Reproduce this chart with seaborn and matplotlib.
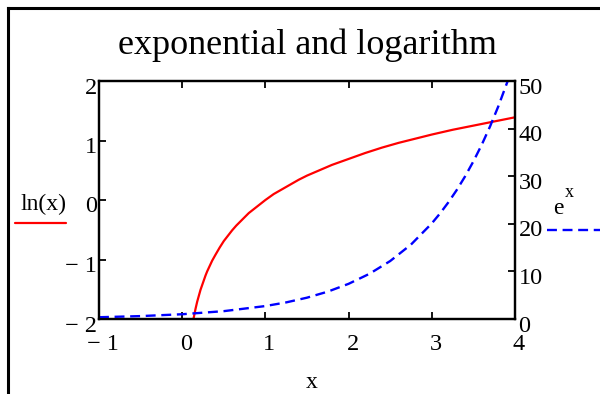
import matplotlib
matplotlib.use("Agg")
import matplotlib.pyplot as plt
import matplotlib.transforms as mtransforms
from matplotlib.lines import Line2D
import seaborn as sns
import pandas as pd

# ln(x) samples
ln_x = [0.135, 0.14, 0.15, 0.16, 0.17, 0.18, 0.2, 0.22, 0.25, 0.28, 0.3, 0.33, 0.36, 0.4,
        0.45, 0.5, 0.55, 0.6, 0.65, 0.7, 0.75, 0.8, 0.9, 1.0, 1.1, 1.2, 1.3, 1.4, 1.5,
        1.65, 1.8, 2.0, 2.2, 2.4, 2.6, 2.8, 3.0, 3.25, 3.5, 3.75, 4.0]
ln_y = [-2.00, -1.97, -1.90, -1.83, -1.77, -1.71, -1.61, -1.51, -1.39, -1.27, -1.20, -1.11,
        -1.02, -0.92, -0.80, -0.69, -0.60, -0.51, -0.43, -0.36, -0.29, -0.22, -0.11, 0.00,
        0.10, 0.18, 0.26, 0.34, 0.41, 0.50, 0.59, 0.69, 0.79, 0.88, 0.96, 1.03, 1.10, 1.18,
        1.25, 1.32, 1.39]

# e^x samples
exp_x = [-1.0, -0.5, 0.0, 0.5, 1.0, 1.25, 1.5, 1.75, 2.0, 2.25, 2.5, 2.75, 3.0, 3.1, 3.2,
         3.3, 3.4, 3.5, 3.6, 3.7, 3.8, 3.91]
exp_y = [0.37, 0.61, 1.00, 1.65, 2.72, 3.49, 4.48, 5.75, 7.39, 9.49, 12.18, 15.64, 20.09,
         22.20, 24.53, 27.11, 29.96, 33.12, 36.60, 40.45, 44.70, 49.90]

x_ticks = [-1, 0, 1, 2, 3, 4]
x_labels = ["\u2212 1", "0", "1", "2", "3", "4"]
left_ticks = [-2, -1, 0, 1, 2]
left_labels = ["\u2212 2", "\u2212 1", "0", "1", "2"]
right_ticks = [0, 10, 20, 30, 40, 50]
right_labels = ["0", "10", "20", "30", "40", "50"]

sns.set_style("white")
plt.rcParams["font.family"] = ["Liberation Serif", "DejaVu Serif"]
plt.rcParams["text.color"] = "black"
plt.rcParams["xtick.color"] = "black"
plt.rcParams["ytick.color"] = "black"

W, H = 600, 394
fig = plt.figure(figsize=(W / 100, H / 100), dpi=100)
ax = fig.add_axes([99 / W, 1 - 319 / H, 416 / W, 238 / H])
ax2 = ax.twinx()

ln_df = pd.DataFrame({"x": ln_x, "y": ln_y})
exp_df = pd.DataFrame({"x": exp_x, "y": exp_y})

sns.lineplot(data=ln_df, x="x", y="y", ax=ax, color="#ff0000", linewidth=1.6,
             sort=False, estimator=None)
sns.lineplot(data=exp_df, x="x", y="y", ax=ax2, color="#0000ff", linewidth=1.7,
             sort=False, estimator=None, dashes=False)
ax2.lines[0].set_dashes([4.2, 2.4])

ax.set_xlim(-1, 4)
ax.set_ylim(-2, 2)
ax2.set_ylim(0, 50)
for a in (ax, ax2):
    a.set_xlabel("")
    a.set_ylabel("")
    for s in a.spines.values():
        s.set_visible(True)
        s.set_color("black")
        s.set_linewidth(1.6)

ax.set_xticks(x_ticks)
ax.set_xticklabels(x_labels)
ax.set_yticks(left_ticks)
ax.set_yticklabels(left_labels)
ax2.set_yticks(right_ticks)
ax2.set_yticklabels(right_labels)

ax.tick_params(axis="x", which="both", direction="in", length=5, width=1.3,
               top=True, bottom=True, labelsize=17.5, pad=11, labelcolor="black")
ax.tick_params(axis="y", direction="in", length=5, width=1.3, left=True, right=False,
               labelsize=17.5, pad=1.5, labelcolor="black")
ax2.tick_params(axis="y", direction="in", length=5, width=1.3, right=True, left=False,
                labelsize=17.5, pad=2.5, labelcolor="black")

# shift tick labels slightly
dx = mtransforms.ScaledTranslation(4 / 100, 0, fig.dpi_scale_trans)
dy = mtransforms.ScaledTranslation(0, -4.5 / 100, fig.dpi_scale_trans)
for lab in ax.get_xticklabels():
    lab.set_transform(lab.get_transform() + dx)
for lab in ax.get_yticklabels() + ax2.get_yticklabels():
    lab.set_transform(lab.get_transform() + dy)

# title and axis name
fig.text(307 / W, 1 - 45 / H, "exponential and logarithm", ha="center", va="center",
         fontsize=26)
fig.text(312 / W, 1 - 382 / H, "x", ha="center", va="center", fontsize=17)

# series captions
fig.text(43 / W, 1 - 204 / H, "ln(x)", ha="center", va="center", fontsize=17)
fig.add_artist(Line2D([15 / W, 66 / W], [1 - 223 / H, 1 - 223 / H], color="#ff0000",
                      linewidth=1.6, transform=fig.transFigure))
fig.text(558 / W, 1 - 214 / H, "e", ha="center", va="baseline", fontsize=17)
fig.text(569 / W, 1 - 197 / H, "x", ha="center", va="baseline", fontsize=13)
fig.add_artist(Line2D([547 / W, 600 / W], [1 - 230 / H, 1 - 230 / H], color="#0000ff",
                      linewidth=1.7, dashes=[4.2, 2.4], transform=fig.transFigure))

# outer frame (left and top edges)
fig.add_artist(Line2D([8 / W, 8 / W], [0, 1 - 8 / H], color="black", linewidth=2.2,
                      transform=fig.transFigure, solid_capstyle="projecting"))
fig.add_artist(Line2D([8 / W, 1], [1 - 8 / H, 1 - 8 / H], color="black", linewidth=2.2,
                      transform=fig.transFigure, solid_capstyle="projecting"))

fig.savefig("out.png", dpi=100, facecolor="white")
